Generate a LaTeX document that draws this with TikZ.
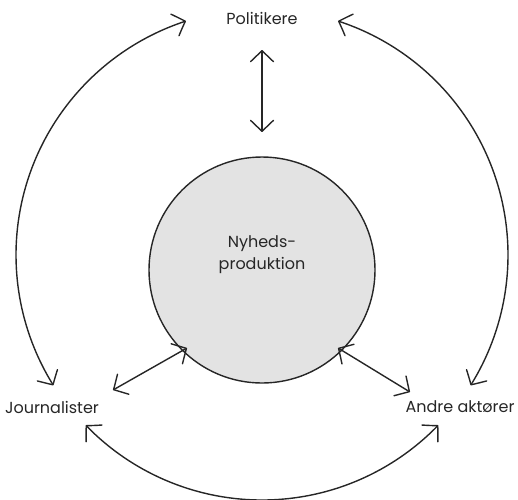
\documentclass[tikz,border=0pt]{standalone}
\usepackage{fontspec}
\setmainfont{Poppins}
\usetikzlibrary{arrows.meta,bending}
\begin{document}
\begin{tikzpicture}[x=1pt,y=1pt,
  >={Straight Barb[length=11pt,width=23pt,bend,round]},
  lbl/.style={font=\fontsize{16}{20}\selectfont, text=black!85, inner sep=0pt},
  conn/.style={line width=1.4pt, black!85, <->}]
\useasboundingbox (0,0) rectangle (518,-499);
\coordinate (c) at (262,-255);
\node[circle, draw=black!85, line width=1.4pt, fill=black!11, minimum size=226pt, inner sep=0pt] (nyh) at (262,-270) {};
\node[lbl, align=center, font=\fontsize{16}{22}\selectfont] (nyht) at (262,-255) {Nyheds-\\produktion};
\node[lbl] (pol) at (262,-18) {Politikere};
\node[lbl] (jou) at (52,-407) {Journalister};
\node[lbl] (and) at (460,-407) {Andre aktører};
\coordinate (v1) at (262,-50);
\coordinate (v2) at (262,-132);
\coordinate (l1) at (113,-390);
\coordinate (l2) at (187,-348);
\coordinate (r1) at (338,-348);
\coordinate (r2) at (410,-392);
\coordinate (aL1) at ([shift={(108:246)}]c);
\coordinate (aR1) at ([shift={(72:246)}]c);
\coordinate (aB1) at ([shift={(224:245)}]c);
\draw[conn] (v1) -- (v2);
\draw[conn] (l1) -- (l2);
\draw[conn] (r1) -- (r2);
\draw[conn] (aL1) arc[start angle=108, end angle=212, radius=246];
\draw[conn] (aR1) arc[start angle=72, end angle=-32, radius=246];
\draw[conn] (aB1) arc[start angle=224, end angle=316, radius=245];
\end{tikzpicture}
\end{document}
